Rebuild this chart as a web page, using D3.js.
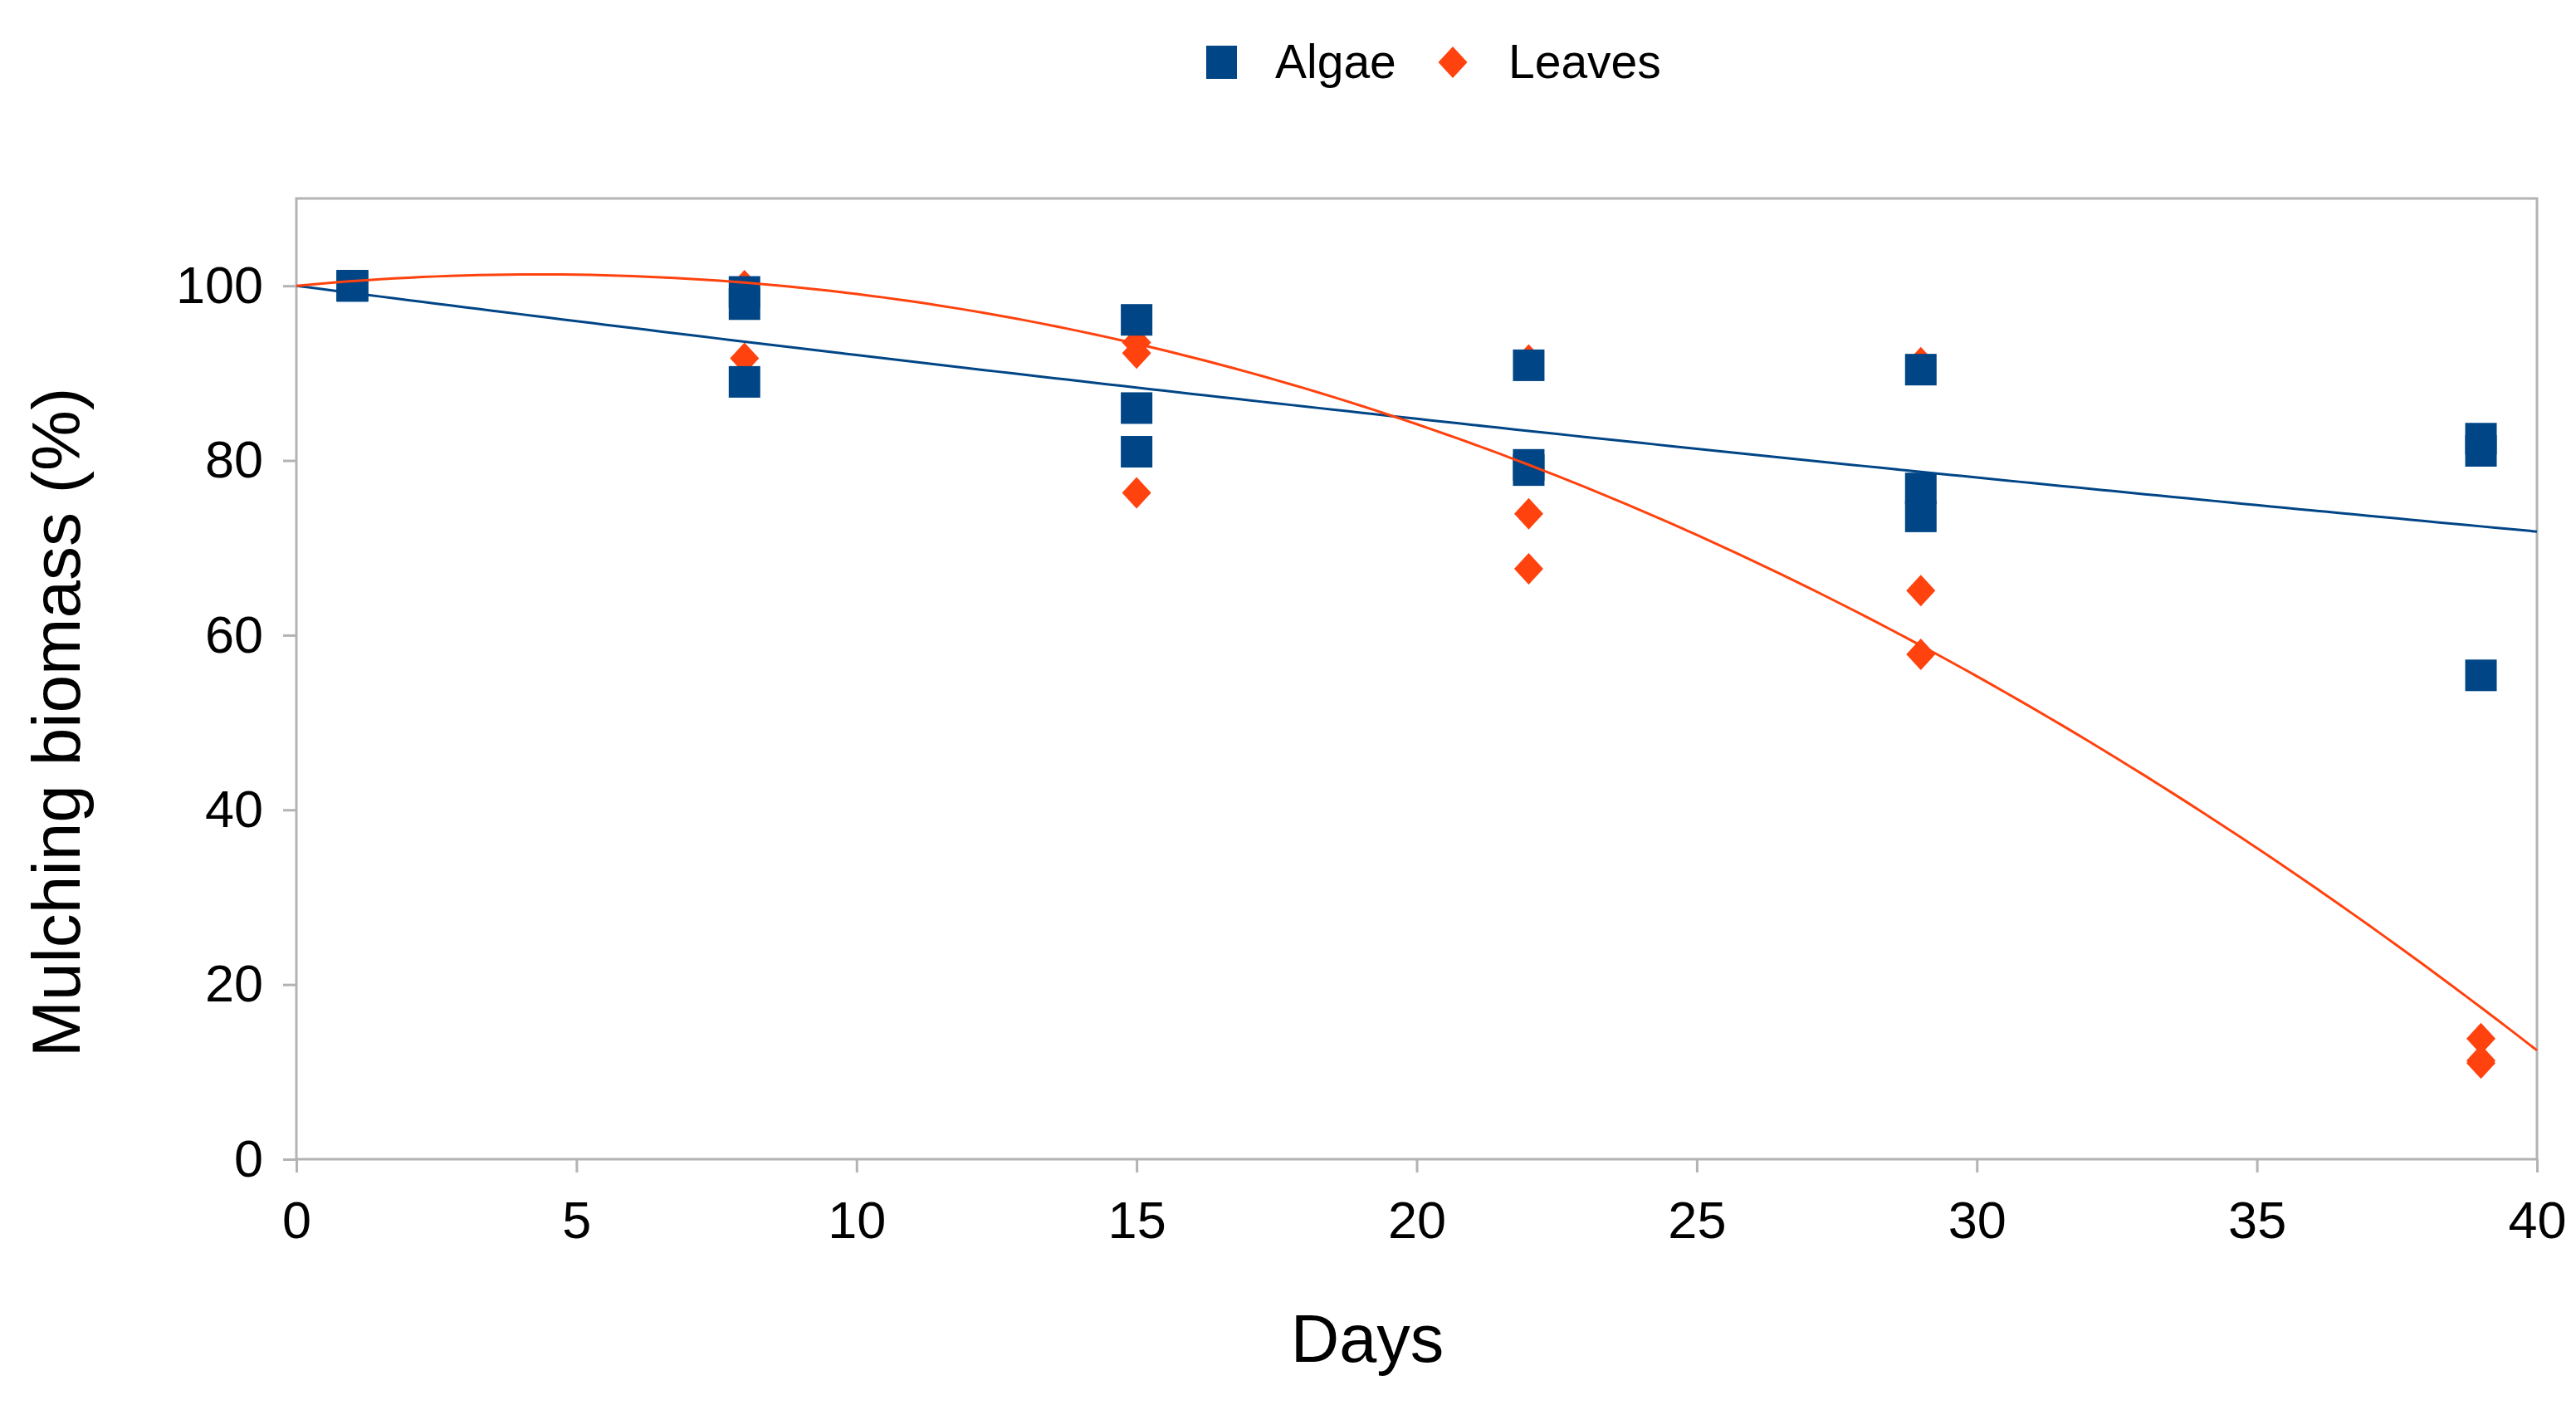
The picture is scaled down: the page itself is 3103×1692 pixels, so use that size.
<!DOCTYPE html>
<html>
<head>
<meta charset="utf-8">
<script src="https://cdn.jsdelivr.net/npm/d3@7"></script>
<style>
  body { margin: 0; background: #fff; }
  text { font-family: "Liberation Sans", Arial, sans-serif; fill: #000; }
</style>
</head>
<body>
<svg id="chart" width="3103" height="1692"></svg>
<script>
// sampling days and the three replicates for each day
var days   = [1, 8, 15, 22, 29, 39];
var algae  = [[100, 100, 100], [99.3, 97.9, 89], [96.1, 86, 81], [90.9, 79.5, 78.9], [90.4, 76.8, 73.6], [82.5, 81.1, 55.4]];
var leaves = [[100, 100, 100], [100, 100, 91.7], [93.5, 92.3, 76.3], [91.5, 73.9, 67.6], [91.2, 65.1, 57.8], [13.8, 11.3, 11.0]];

var seriesNames = ['Algae', 'Leaves'];
var xTicks = [0, 5, 10, 15, 20, 25, 30, 35, 40];
var yTicks = [0, 20, 40, 60, 80, 100];

var BLUE = '#004586', ORANGE = '#ff420e', AXIS = '#b3b3b3';

// flatten [day][replicate] into points
function _points(values) {
  var out = [];
  values.forEach(function(reps, i) {
    reps.forEach(function(v) { out.push({ x: days[i], y: v }); });
  });
  return out;
}

// exponential trend through (0, 100): ln(y/100) = k x
function _expTrend(pts) {
  var sxy = d3.sum(pts, function(d) { return d.x * Math.log(d.y / 100); });
  var sxx = d3.sum(pts, function(d) { return d.x * d.x; });
  var k = sxy / sxx;
  return function(x) { return 100 * Math.exp(k * x); };
}

// quadratic trend through (0, 100): y - 100 = b x + c x^2
function _polyTrend(pts) {
  var s2 = d3.sum(pts, function(d) { return d.x * d.x; }),
      s3 = d3.sum(pts, function(d) { return d.x * d.x * d.x; }),
      s4 = d3.sum(pts, function(d) { return d.x * d.x * d.x * d.x; }),
      r1 = d3.sum(pts, function(d) { return d.x * (d.y - 100); }),
      r2 = d3.sum(pts, function(d) { return d.x * d.x * (d.y - 100); });
  var det = s2 * s4 - s3 * s3;
  var b = (r1 * s4 - r2 * s3) / det,
      c = (s2 * r2 - s3 * r1) / det;
  return function(x) { return 100 + b * x + c * x * x; };
}

var algaePts  = _points(algae),
    leavesPts = _points(leaves);

var margin = { left: 357, right: 47, top: 239, bottom: 296 };
var W = 3103, H = 1692;
var width  = W - margin.left - margin.right,
    height = H - margin.top - margin.bottom;

var svg = d3.select('#chart');
var g = svg.append('g').attr('transform', 'translate(' + margin.left + ',' + margin.top + ')');

var x = d3.scaleLinear().domain([0, 40]).range([0, width]);
var y = d3.scaleLinear().domain([0, 110]).range([height, 0]);

// axes
var yAxis = g.append('g')
  .call(d3.axisLeft(y).tickValues(yTicks).tickSize(16).tickPadding(24).tickFormat(d3.format('d')));
var xAxis = g.append('g')
  .attr('transform', 'translate(0,' + height + ')')
  .call(d3.axisBottom(x).tickValues(xTicks).tickSize(16).tickPadding(34).tickFormat(d3.format('d')));

[yAxis, xAxis].forEach(function(a) {
  a.select('.domain').remove();
  a.selectAll('line').attr('stroke', AXIS).attr('stroke-width', 3);
  a.selectAll('text').style('font-size', '63px').attr('fill', '#000');
});

g.append('rect')
  .attr('width', width).attr('height', height)
  .attr('fill', 'none').attr('stroke', AXIS).attr('stroke-width', 3);

// markers: leaves first, algae on top
var diamond = function(cx, cy) {
  return 'M' + cx + ',' + (cy - 19) + 'L' + (cx + 17.5) + ',' + cy +
         'L' + cx + ',' + (cy + 19) + 'L' + (cx - 17.5) + ',' + cy + 'Z';
};

g.selectAll('path.leaves').data(leavesPts).enter().append('path')
  .attr('class', 'leaves')
  .attr('d', function(d) { return diamond(x(d.x), y(d.y)); })
  .attr('fill', ORANGE);

g.selectAll('rect.algae').data(algaePts).enter().append('rect')
  .attr('class', 'algae')
  .attr('x', function(d) { return x(d.x) - 19; })
  .attr('y', function(d) { return y(d.y) - 19; })
  .attr('width', 38).attr('height', 38)
  .attr('fill', BLUE);

// trend lines, computed from the points above
var trendX = d3.range(0, 40.001, 0.25);
var line = d3.line().x(function(d) { return x(d[0]); }).y(function(d) { return y(d[1]); });
var fa = _expTrend(algaePts), fl = _polyTrend(leavesPts);

g.append('path')
  .attr('d', line(trendX.map(function(t) { return [t, fa(t)]; })))
  .attr('fill', 'none').attr('stroke', BLUE).attr('stroke-width', 3);
g.append('path')
  .attr('d', line(trendX.map(function(t) { return [t, fl(t)]; })))
  .attr('fill', 'none').attr('stroke', ORANGE).attr('stroke-width', 3);

// axis titles
svg.append('text')
  .attr('x', 1647).attr('y', 1640)
  .attr('text-anchor', 'middle')
  .style('font-size', '81px')
  .text('Days');

svg.append('text')
  .attr('transform', 'translate(96,870) rotate(-90)')
  .attr('text-anchor', 'middle')
  .style('font-size', '82px')
  .text('Mulching biomass (%)');

// legend
var legend = svg.append('g');
legend.append('rect')
  .attr('x', 1453).attr('y', 55).attr('width', 37).attr('height', 40)
  .attr('fill', BLUE);
legend.append('path')
  .attr('d', diamond(1750, 75))
  .attr('fill', ORANGE);
legend.selectAll('text.lg').data(seriesNames).enter().append('text')
  .attr('class', 'lg')
  .attr('x', function(d, i) { return i === 0 ? 1536 : 1817; })
  .attr('y', 94)
  .style('font-size', '57px')
  .text(function(d) { return d; });
</script>
</body>
</html>
